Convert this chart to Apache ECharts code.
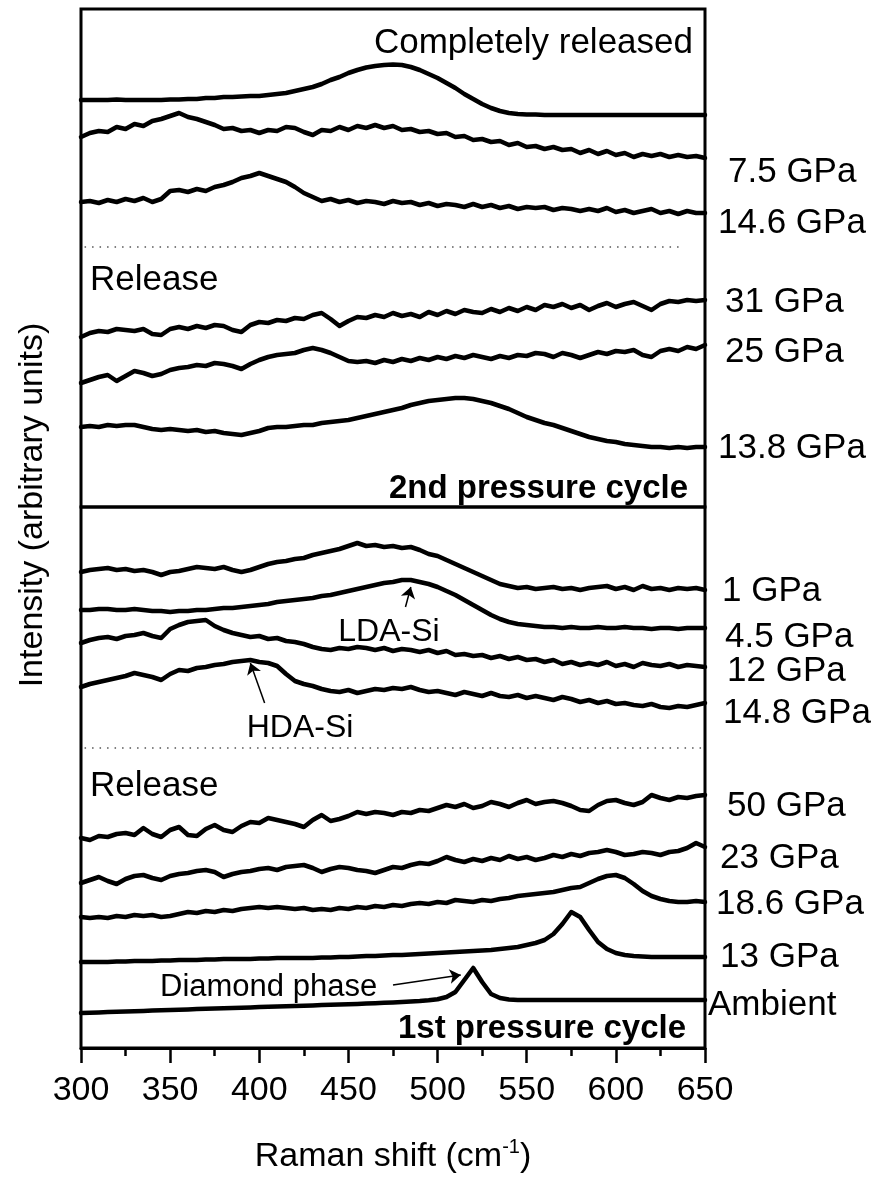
<!DOCTYPE html>
<html><head><meta charset="utf-8">
<script src="https://cdn.jsdelivr.net/npm/echarts@6.0.0/dist/echarts.min.js"></script>
<style>html,body{margin:0;padding:0;background:#fff}#c{width:882px;height:1182px}</style>
</head><body><div id="c"></div><script>
// Raman shift sampling (cm^-1)
const xs = [300,305,310,315,320,325,330,335,340,345,350,355,360,365,370,375,380,385,390,395,
400,405,410,415,420,425,430,435,440,445,450,455,460,465,470,475,480,485,490,495,
500,505,510,515,520,525,530,535,540,545,550,555,560,565,570,575,580,585,590,595,
600,605,610,615,620,625,630,635,640,645,650];
const xTicks = [300,350,400,450,500,550,600,650];

// 2nd pressure cycle (upper panel), offset intensities, arbitrary units
const completelyReleased = [407,407,407,407,407.5,407,407,407,407,407,
 407.5,407.5,408,408,409,409,410,410,410.5,411,
 411,412,413,414,416,418,420,423,427,430,
 434,437,439.5,441,442,442.5,442,440,437,433,
 429,424,419,413,408,403,399,396,394,393,
 392.5,392.5,392,392,392,392,392,392,392,392,
 392,392,392,392,392,392,392,392,392,392,392];
const p7_5 = [370,374,376,375,380,378,383,381,386,388,
 391,394,390,388,385,382,378,379,376,377,
 374,377,376,380,379,375,372,377,376,380,
 377,381,379,382,379,381,377,378,375,376,
 373,374,370,371,367,368,365,366,362,364,
 360,361,358,360,357,358,354,357,353,356,
 352,354,350,353,351,353,350,352,350,351,349];
const p14_6 = [305,306,304,307,305,308,306,309,305,308,
 316,317,315,318,316,320,322,325,329,331,
 334,331,328,325,320,314,310,306,308,305,
 307,304,306,305,303,306,304,305,302,304,
 301,303,302,300,303,300,302,299,301,298,
 300,299,300,297,299,298,296,298,296,299,
 295,297,294,296,298,294,296,293,296,294,294];
const p31 = [170,174,176,175,178,177,176,178,173,172,
 178,180,178,181,179,182,181,177,175,182,
 185,184,187,186,189,188,192,194,188,181,
 186,190,189,192,190,194,191,193,190,195,
 192,196,193,197,195,194,198,195,199,196,
 200,197,202,200,203,199,202,197,201,204,
 200,203,205,201,197,203,206,205,207,206,207];
const p25 = [124,127,130,132,126,131,136,134,131,133,
 137,139,140,142,141,144,143,141,138,143,
 147,150,152,153,154,157,159,157,154,150,
 146,145,146,144,147,145,148,146,149,147,
 150,148,151,149,152,150,148,151,149,152,
 151,154,153,150,154,152,149,152,155,153,
 156,155,157,152,150,156,158,156,160,158,162];
const p13_8 = [80,81,80,82,81,82,82,80,78,77,
 78,77,76,77,75,76,74,73,72,74,
 76,79,80,80,81,82,82,84,85,86,
 87,89,91,93,95,97,99,102,104,106,
 107,108,109,109,108,106,104,101,98,94,
 90,87,84,82,79,76,73,70,68,66,
 65,63,62,61,60,60,59,60,59,60,60];

// 1st pressure cycle (lower panel)
const p1 = [476,478,479,480,478,479,477,478,476,473,
 476,477,479,481,480,479,481,478,476,478,
 481,484,486,487,489,490,493,495,497,499,
 502,505,502,503,501,502,500,501,498,494,
 492,488,484,480,476,472,468,464,462,460,
 461,459,460,461,459,460,458,460,461,462,
 459,461,458,462,459,460,458,460,459,460,458];
const p4_5 = [438,438,439,439,438,438,439,438,437,437,
 436,437,437,438,438,439,440,440,441,442,
 443,444,446,447,448,449,450,452,453,455,
 457,459,461,463,465,466,468,468,466,464,
 461,457,453,448,443,438,433,429,426,424,
 423,422,421,421,420,421,420,420,421,420,
 420,421,420,420,419,420,420,419,420,420,420];
const p12 = [405,408,410,411,409,412,413,415,412,410,
 419,423,426,427,428,422,418,415,413,411,
 412,409,410,407,406,404,401,399,398,400,
 399,401,400,398,400,397,399,398,396,398,
 395,397,393,394,392,393,390,392,389,391,
 388,389,386,388,384,386,383,385,383,386,
 382,384,381,385,383,382,384,381,383,382,381];
const p14_8 = [361,364,366,368,370,372,375,373,371,368,
 374,378,377,380,381,383,384,386,387,388,
 386,385,382,374,367,364,362,359,357,356,
 358,355,357,359,358,360,359,361,358,356,
 357,355,353,356,354,352,355,352,351,353,
 350,352,350,348,351,349,346,348,345,347,
 344,345,343,342,344,341,340,342,341,343,345];
const p50 = [210,208,212,211,214,215,213,220,214,211,
 218,221,213,212,219,223,218,216,222,226,
 225,230,228,226,224,221,228,233,227,229,
 232,236,234,236,235,233,236,235,238,237,
 240,243,241,244,240,242,246,244,241,245,
 248,244,246,247,245,242,238,237,243,247,
 248,245,243,246,253,250,248,251,250,252,253];
const p23 = [165,168,171,167,164,169,172,173,170,168,
 172,174,175,177,178,176,171,174,176,177,
 179,180,178,181,182,183,180,176,179,181,
 180,178,177,175,178,181,180,183,185,184,
 187,191,188,186,189,187,190,188,192,189,
 191,188,190,193,191,194,192,195,196,198,
 196,193,194,196,195,193,196,197,200,205,201];
const p18_6 = [131,130,131,130,132,131,133,132,133,131,
 132,134,136,135,137,136,138,137,139,140,
 141,140,141,140,139,140,138,139,138,140,
 139,141,140,142,141,143,142,144,145,144,
 146,145,148,147,146,148,147,149,150,152,
 153,154,155,156,158,160,161,165,169,172,
 173,170,164,157,152,149,147,146,146,147,146];
const p13 = [86,86,86,86,86.5,86.5,87,87,87,87.5,
 87.5,88,88,88,88.5,88.5,89,89,89,89,
 89.5,89.5,90,90,90,90,90,90.5,90.5,91,
 91,91.5,92,92,92.5,93,93,93.5,94,94.5,
 95,95.5,96,96.5,97,97.5,98,99,100,101,
 103,105,108,114,124,136,131,118,106,99,
 95,93,92,91.5,91,91,91,91,91,91,91];
const ambient = [35,35.3,35.6,35.9,36.2,36.5,36.8,37.1,37.4,37.7,
 38,38.3,38.6,38.9,39.2,39.5,39.8,40,40.3,40.6,
 40.9,41.2,41.5,41.8,42,42.3,42.6,42.9,43.2,43.5,
 43.8,44.1,44.4,44.8,45.2,45.6,46,46.5,47,47.7,
 48.8,51,56,68,80,66,54,50,48.5,48,
 48,48,48,48,48,48,48,48,48,48,
 48,48,48,48,48,48,48,48,48,48,48];

const upperSeries = [completelyReleased, p7_5, p14_6, p31, p25, p13_8];
const lowerSeries = [p1, p4_5, p12, p14_8, p50, p23, p18_6, p13, ambient];
const upperNames = ['Completely released','7.5 GPa','14.6 GPa','31 GPa','25 GPa','13.8 GPa'];
const lowerNames = ['1 GPa','4.5 GPa','12 GPa','14.8 GPa','50 GPa','23 GPa','18.6 GPa','13 GPa','Ambient'];

// separators (dotted) and annotation arrows in data units
const upperSeparator = [[302,260],[638,260]];
const lowerSeparator = [[302,300],[649,300]];
const ldaArrow = [[482,441],[485,461]];
const hdaArrow = [[403,345],[395,385]];
const diamondArrow = [[475,63],[513,73]];

const FF = '"Liberation Sans", Arial, sans-serif';
const chart = echarts.init(document.getElementById('c'), null, {renderer:'canvas'});

function lineSeries(name, vals, gi){
  return {type:'line', name, xAxisIndex:gi, yAxisIndex:gi,
    data: xs.map((x,i)=>[x, vals[i]]), showSymbol:false, symbol:'none',
    silent:true, z:3, animation:false,
    lineStyle:{color:'#000', width:4.5, join:'round', cap:'round'}};
}
function mlSeries(gi, lines, style, symbols){
  return {type:'line', xAxisIndex:gi, yAxisIndex:gi, data:[], silent:true, animation:false,
    markLine:{silent:true, animation:false, symbol:symbols, symbolSize:11,
      label:{show:false}, lineStyle:style,
      data: lines.map(l=>[{coord:l[0]},{coord:l[1]}])}};
}

const series = [];
upperSeries.forEach((v,i)=>series.push(lineSeries(upperNames[i], v, 0)));
lowerSeries.forEach((v,i)=>series.push(lineSeries(lowerNames[i], v, 1)));
series.push(mlSeries(0,[upperSeparator],{type:[1.5,6], color:'#555', width:1.5},['none','none']));
series.push(mlSeries(1,[lowerSeparator],{type:[1.5,6], color:'#555', width:1.5},['none','none']));
series.push(mlSeries(1,[ldaArrow, hdaArrow, diamondArrow],{type:'solid', color:'#000', width:1.5},['none','arrow']));

function txt(text, x, y, size, opts){
  opts = opts || {};
  return {type:'text', x, y, z:10, silent:true, rotation: opts.rotation || 0,
    style:{text, fill:'#000', fontSize:size, fontFamily:FF, fontWeight: opts.bold ? 'bold':'normal',
      align: opts.align || 'left', verticalAlign:'middle', textAlign: opts.align || 'left', textVerticalAlign:'middle'}};
}

const graphics = [
  txt('Completely released', 693, 43, 35, {align:'right'}),
  txt('7.5 GPa', 728, 172, 35),
  txt('14.6 GPa', 718, 223, 35),
  txt('Release', 90, 280, 35),
  txt('31 GPa', 725, 302, 35),
  txt('25 GPa', 725, 352, 35),
  txt('13.8 GPa', 718, 448, 35),
  txt('2nd pressure cycle', 688, 489, 33, {align:'right', bold:true}),
  txt('1 GPa', 722, 591, 35),
  txt('4.5 GPa', 725, 637, 35),
  txt('LDA-Si', 389, 632, 32, {align:'center'}),
  txt('12 GPa', 727, 671, 35),
  txt('14.8 GPa', 723, 713, 35),
  txt('HDA-Si', 300, 728, 32, {align:'center'}),
  txt('Release', 90, 786, 35),
  txt('50 GPa', 727, 806, 35),
  txt('23 GPa', 720, 858, 35),
  txt('18.6 GPa', 716, 904, 35),
  txt('13 GPa', 720, 957, 35),
  txt('Diamond phase', 160, 987, 31),
  txt('Ambient', 708, 1005, 35),
  txt('1st pressure cycle', 686, 1029, 33, {align:'right', bold:true}),
  txt('Intensity (arbitrary units)', 33, 505, 34, {align:'center', rotation:Math.PI/2}),
  {type:'text', x:393, y:1157, z:10, silent:true,
    style:{text:'{a|Raman shift (cm}{s|-1}{a|)}', fill:'#000', align:'center', verticalAlign:'middle',
      rich:{a:{fontSize:34, fontFamily:FF, fill:'#000', lineHeight:40},
            s:{fontSize:20, fontFamily:FF, fill:'#000', verticalAlign:'top', lineHeight:40, padding:[0,0,0,0]}}}}
];

chart.setOption({
  animation:false,
  backgroundColor:'#fff',
  grid:[
    {left:81, top:9, width:624, height:498, show:true, borderColor:'#000', borderWidth:3, backgroundColor:'transparent'},
    {left:81, top:507, width:624, height:541, show:true, borderColor:'#000', borderWidth:3, backgroundColor:'transparent'}
  ],
  xAxis:[
    {type:'value', gridIndex:0, min:300, max:650, show:false},
    {type:'value', gridIndex:1, min:300, max:650, interval:50, position:'bottom',
      axisLine:{show:true, onZero:false, lineStyle:{color:'#000', width:3}},
      axisTick:{show:true, inside:false, length:15, lineStyle:{color:'#000', width:2.5}},
      minorTick:{show:true, splitNumber:2, length:8, lineStyle:{color:'#000', width:2.5}},
      splitLine:{show:false}, minorSplitLine:{show:false},
      axisLabel:{show:true, color:'#000', fontSize:34, fontFamily:FF, margin:26,
        customValues: xTicks, formatter: v => String(v)}}
  ],
  yAxis:[
    {type:'value', gridIndex:0, min:0, max:498, show:false},
    {type:'value', gridIndex:1, min:0, max:541, show:false}
  ],
  series,
  graphic: graphics
});
</script></body></html>
